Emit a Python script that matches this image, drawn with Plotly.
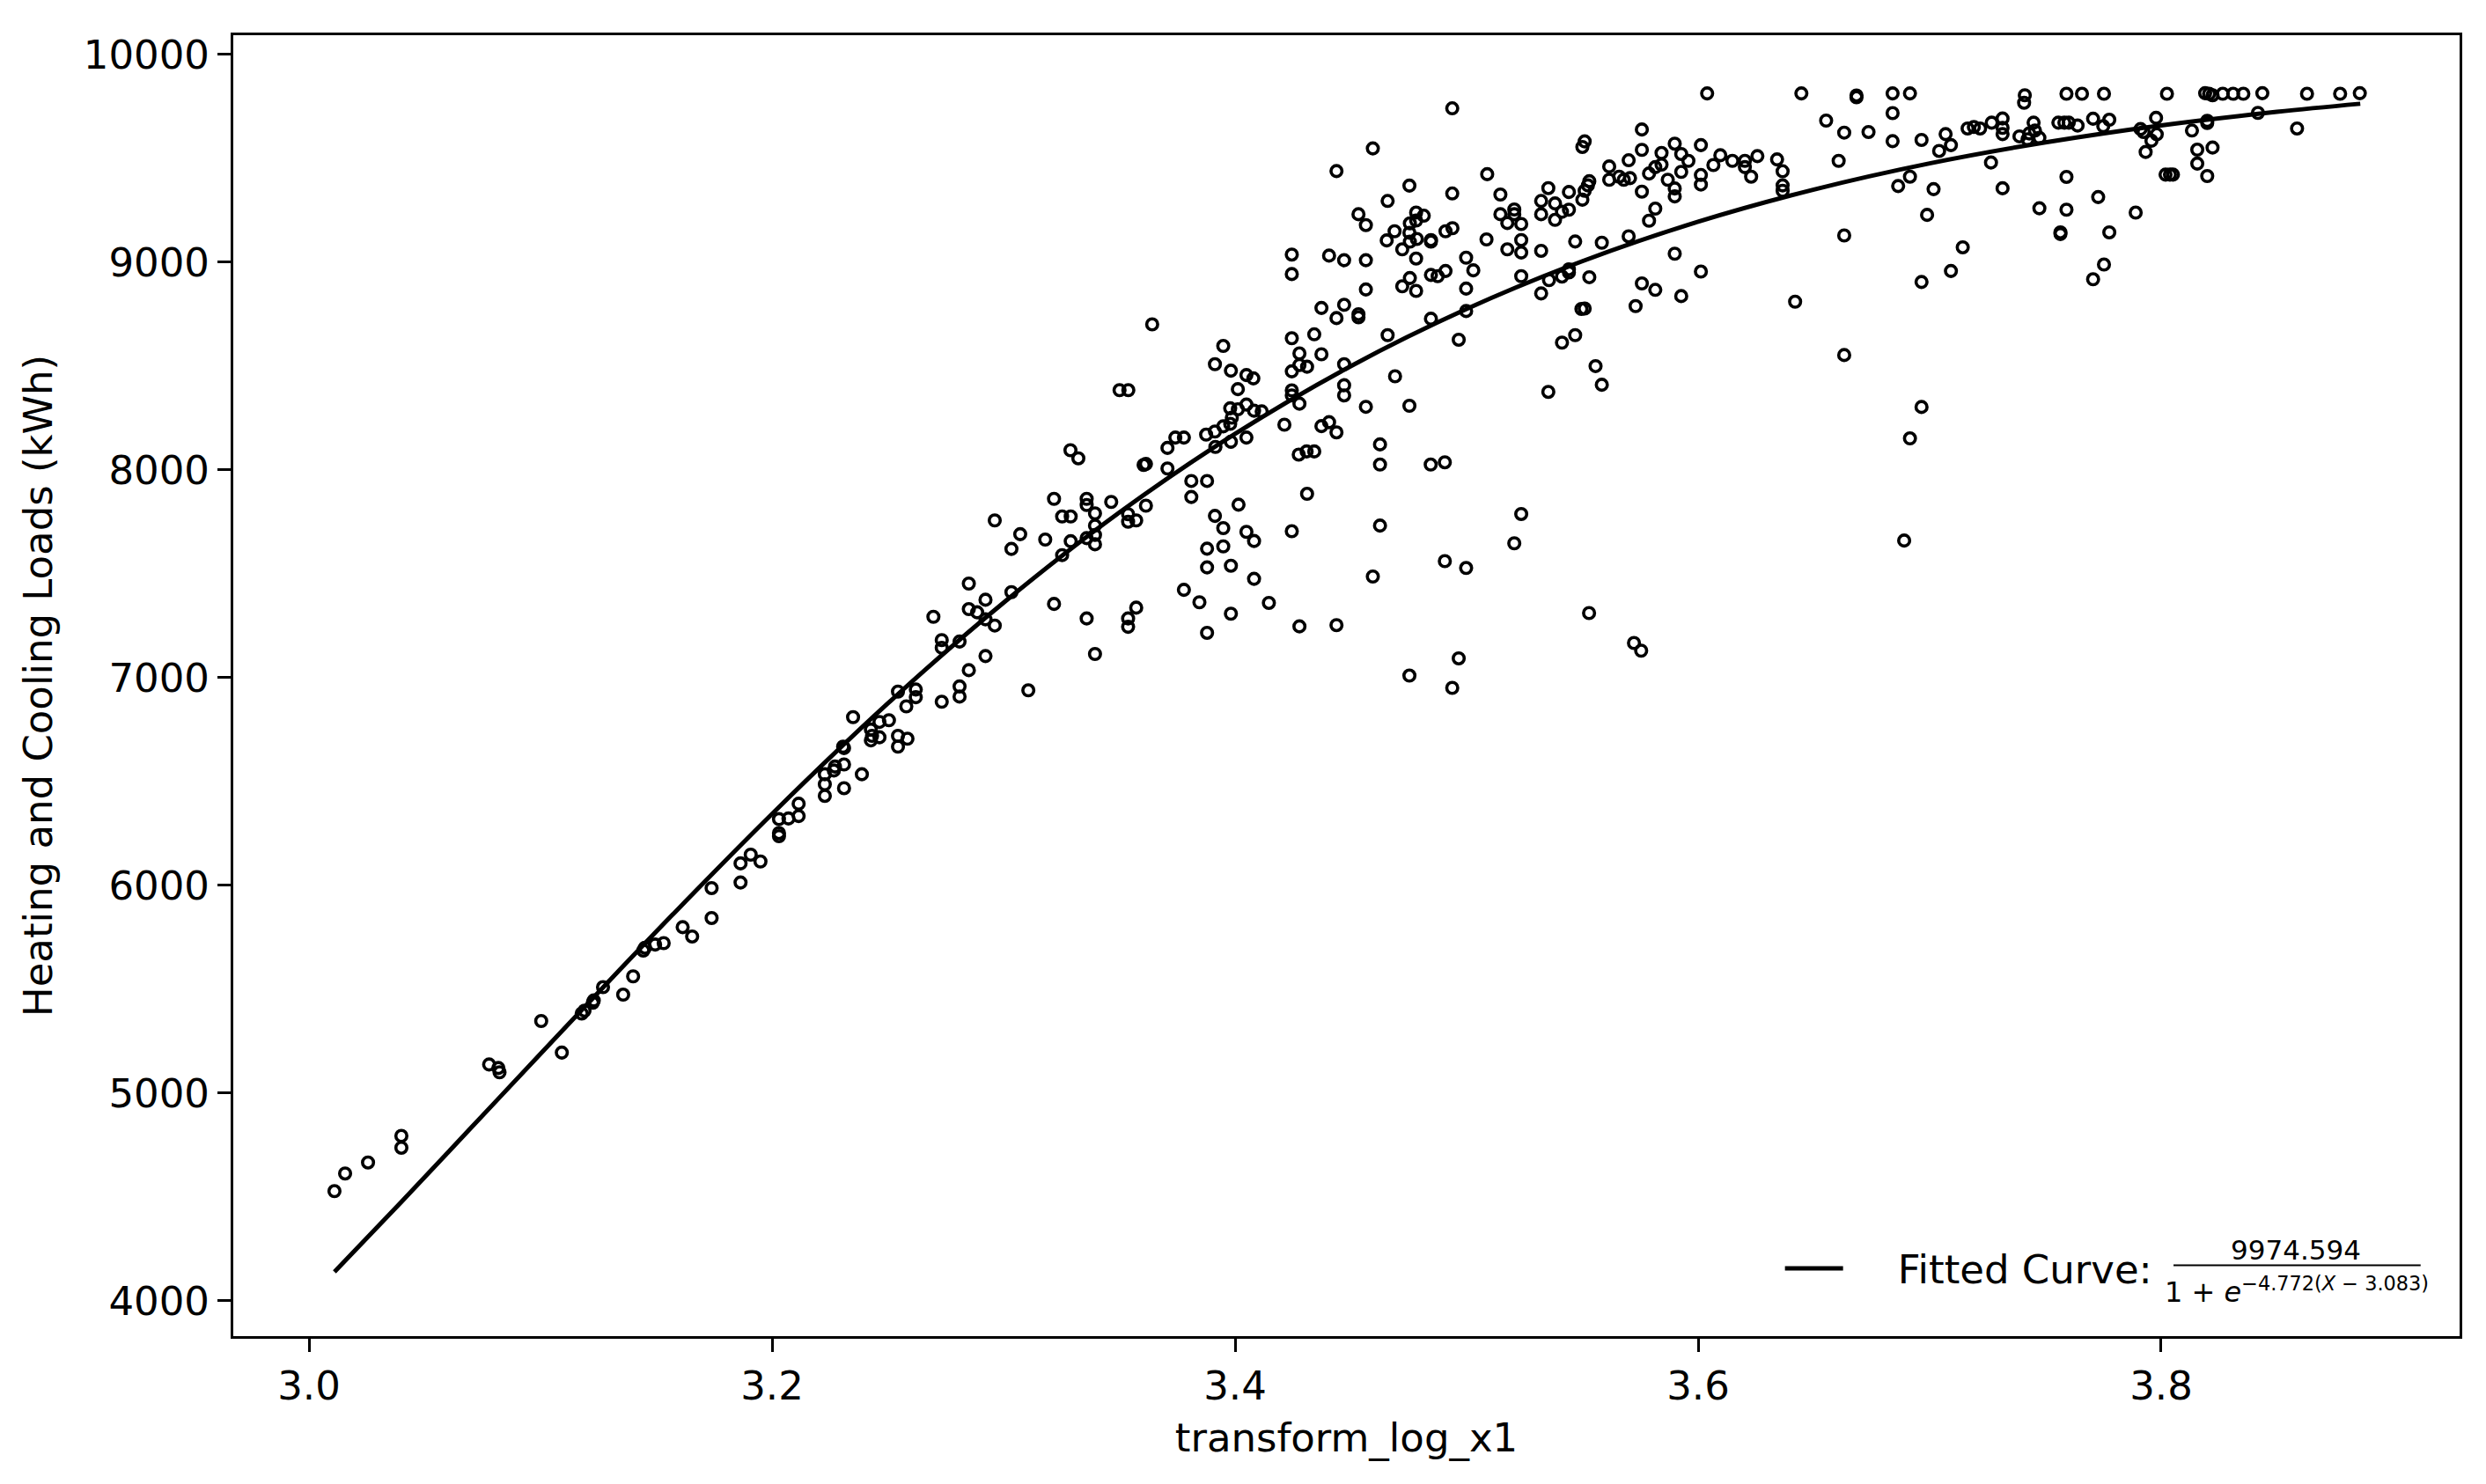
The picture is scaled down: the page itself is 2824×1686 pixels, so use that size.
import plotly.graph_objects as go

FONT = "DejaVu Sans"

# logistic fit parameters shown in the legend
FIT_L = 9974.594
FIT_K = 4.772
FIT_X0 = 3.083

# observed points: transform_log_x1 vs heating + cooling load (kWh)
load_x = [
    3.0110, 3.0156, 3.0255, 3.0399, 3.0399, 3.0778, 3.0818, 3.0823, 3.1003, 3.1092,
    3.1178, 3.1190, 3.1226, 3.1230, 3.1270, 3.1357, 3.1400, 3.1444, 3.1451, 3.1495,
    3.1532, 3.1614, 3.1655,
    3.1739, 3.1739, 3.1864, 3.1864, 3.1908, 3.1950, 3.2030, 3.2030, 3.2030, 3.2071,
    3.2115, 3.2115, 3.2228, 3.2228, 3.2228, 3.2267, 3.2272, 3.2311, 3.2311, 3.2311,
    3.2307, 3.2388, 3.2350, 3.2427, 3.2427, 3.2432, 3.2464, 3.2464, 3.2505, 3.2544,
    3.2544, 3.2585, 3.2544, 3.2580, 3.2621, 3.2621, 3.2733, 3.2810, 3.2810, 3.2850,
    3.2922, 3.3107, 3.2733, 3.2733, 3.2810, 3.2697, 3.2850, 3.2850, 3.2886, 3.2922,
    3.2922, 3.2962, 3.3034, 3.2962, 3.3034, 3.3072, 3.3180, 3.3218, 3.3253, 3.3290,
    3.3253, 3.3290, 3.3218, 3.3359, 3.3359, 3.3395, 3.3395, 3.3359, 3.3395, 3.3395,
    3.3465, 3.3359, 3.3395, 3.3538, 3.3538, 3.3573, 3.3538, 3.3538, 3.3573,
    3.3501, 3.3539, 3.3289, 3.3323, 3.3605,
    3.3642, 3.3949, 3.3913, 3.3982, 3.4049, 3.4079, 3.4012, 3.3979, 3.4012, 3.4049,
    3.4082, 3.4115, 3.3986, 3.3979, 3.3949, 3.3913, 3.3875, 3.3779, 3.3742, 3.3708,
    3.3708, 3.3615, 3.3615, 3.3915, 3.3982, 3.4049, 3.3811, 3.3879, 3.3811, 3.4015,
    3.3913, 3.3949, 3.4049, 3.4082, 3.3879, 3.3949, 3.3879, 3.3982, 3.4082, 3.3779,
    3.3846, 3.3982, 3.4146, 3.3879, 3.4278, 3.4438, 3.4245, 3.4311, 3.4213, 3.4275,
    3.4309, 3.4342, 3.4373, 3.4406, 3.4438, 3.4278, 3.4245, 3.4245, 3.4245, 3.4278,
    3.4311, 3.4278, 3.4373, 3.4245, 3.4342, 3.4373, 3.4438, 3.4471, 3.4533, 3.4533,
    3.4471, 3.4471, 3.4471, 3.4565, 3.4626, 3.4626, 3.4753, 3.4691, 3.4659, 3.4626,
    3.4595, 3.4565, 3.4565, 3.4471, 3.4406, 3.4245, 3.4245, 3.4846, 3.4845, 3.4906,
    3.4906, 3.4998, 3.4966,
    3.4755, 3.4722, 3.4782, 3.4846, 3.4846, 3.5176, 3.5236, 3.5236, 3.5322, 3.4722,
    3.4755, 3.4782, 3.4846, 3.4875, 3.4909, 3.4998, 3.5029, 3.4998, 3.5236, 3.5322,
    3.5356, 3.5412, 3.5442, 3.5442, 3.5496, 3.4998, 3.4966, 3.5469, 3.5412, 3.5353,
    3.5236, 3.5206,
    3.4753, 3.4938,
    3.4938, 3.4595, 3.4438, 3.5500, 3.5089, 3.4753, 3.4659, 3.4938, 3.5146, 3.4533,
    3.4565, 3.4689, 3.4655, 3.4755, 3.4782, 3.4815, 3.4782, 3.4753, 3.4785, 3.4909,
    3.4939, 3.5086, 3.5146, 3.5206, 3.5206, 3.5176, 3.5236, 3.5322, 3.5353, 3.5382,
    3.5322, 3.5382, 3.5412, 3.5442, 3.5442, 3.5500, 3.5469,
    3.6039, 3.6446, 3.6684, 3.6684, 3.6840, 3.6915, 3.6840, 3.6553, 3.6631, 3.6736,
    3.6840, 3.6965, 3.6607, 3.7069, 3.7041, 3.7092, 3.7164, 3.7191, 3.7218, 3.7268,
    3.7315, 3.7315, 3.7315, 3.7265, 3.7315, 3.7388, 3.7408,
    3.5510, 3.5530, 3.5524, 3.5510, 3.5616, 3.5616, 3.5659, 3.5679, 3.5706, 3.5700,
    3.5757, 3.5757, 3.5757, 3.5788, 3.5815, 3.5842, 3.5842, 3.5815, 3.5788, 3.5869,
    3.5899, 3.5899, 3.5899, 3.5927, 3.5927, 3.5958, 3.6012, 3.6012, 3.6012, 3.6066,
    3.6096, 3.6148, 3.6202, 3.6202, 3.6229, 3.6256, 3.6341, 3.6365, 3.6365, 3.6365,
    3.5584, 3.5700, 3.5530, 3.5510, 3.5757, 3.5815, 3.5730, 3.5899, 3.5927, 3.6012,
    3.6419, 3.6631, 3.6631, 3.6864, 3.6915, 3.7017, 3.6989, 3.7143, 3.7092, 3.6965,
    3.6965, 3.6915, 3.5557, 3.5584,
    3.5529, 3.5723, 3.5754, 3.6890,
    3.7411, 3.7591, 3.7658, 3.7753, 3.8025, 3.8190, 3.8207, 3.8222, 3.8266, 3.8311,
    3.8355, 3.8437, 3.8630, 3.8773, 3.8858,
    3.7449, 3.7455, 3.7430, 3.7423, 3.7474, 3.7556, 3.7582, 3.7601, 3.7639, 3.7706,
    3.7776, 3.7750, 3.7911, 3.7924, 3.7978, 3.7981, 3.7958, 3.7933, 3.8133, 3.8199,
    3.8199, 3.8156, 3.8222, 3.8156, 3.8199, 3.8019, 3.8038, 3.8051, 3.8418, 3.8587,
    3.7591, 3.7474, 3.7591, 3.7728, 3.7890, 3.7565, 3.7565, 3.7776, 3.7753, 3.7706,
]

load_y = [
    4528, 4613, 4666, 4794, 4737, 5138, 5121, 5100, 5347, 5195,
    5383, 5397, 5435, 5446, 5510, 5474, 5562, 5686, 5700, 5715,
    5722, 5799, 5754,
    5987, 5843, 6106, 6014, 6148, 6115, 6237, 6252, 6319, 6322,
    6393, 6334, 6431, 6487, 6535, 6553, 6572, 6582, 6468, 6661,
    6668, 6535, 6810, 6750, 6698, 6720, 6787, 6713, 6795, 6720,
    6668, 6706, 6933, 6862, 6943, 6906, 6884, 6958, 6909, 7036,
    7104, 6939, 7181, 7144, 7174, 7293, 7453, 7330, 7315, 7375,
    7281, 7251, 7412, 7757, 7620, 7691, 7665, 7861, 7776, 7776,
    7590, 7657, 7355, 7861, 7831, 7791, 7732, 7672, 7687, 7642,
    7846, 7285, 7114, 7787, 7751, 7757, 7285, 7245, 7337,
    8384, 8384, 8095, 8056, 8024,
    8701, 8597, 8509, 8478, 8457, 8441, 8389, 8297, 8292, 8315,
    8285, 8282, 8252, 8222, 8210, 8185, 8170, 8156, 8156, 8106,
    8007, 8029, 7828, 8111, 8136, 8156, 7947, 7947, 7870, 7833,
    7779, 7720, 7702, 7658, 7621, 7632, 7531, 7539, 7476, 7423,
    7363, 7308, 7360, 7216, 7247, 7253, 7705, 7885, 8218, 8074,
    8089, 8089, 8211, 8230, 8181, 8319, 8359, 8383, 8475, 8505,
    8497, 8561, 8557, 8634, 8653, 8780, 8731, 8795, 8750, 8735,
    8509, 8408, 8359, 8304, 8123, 8026, 8309, 8451, 8649, 7732,
    7487, 8869, 9010, 9010, 9032, 9037, 8943, 8728, 8026, 8037,
    7561, 7528, 7093,
    9099, 9062, 9018, 9107, 9099, 9062, 9107, 9047, 9055, 8884,
    8924, 8862, 8939, 8933, 8958, 9022, 8961, 8873, 8933, 8850,
    8914, 8931, 8966, 8951, 8775, 8765, 8627, 8649, 8613, 8376,
    7788, 7647,
    7010, 6951,
    9741, 9548, 9439, 9555, 9424, 9369, 9295, 9331, 9326, 9231,
    9179, 9149, 9105, 9187, 9239, 9224, 9201, 9142, 9112, 9149,
    9164, 9110, 9231, 9254, 9231, 9189, 9184, 9295, 9357, 9283,
    9231, 9204, 9243, 9253, 9338, 9301, 9100,
    9813, 9813, 9803, 9794, 9813, 9813, 9718, 9682, 9624, 9627,
    9583, 9589, 9488, 9617, 9536, 9564, 9644, 9651, 9644, 9672,
    9692, 9647, 9617, 9480, 9356, 9606, 9768,
    9582, 9390, 9370, 9344, 9461, 9397, 9412, 9397, 9405, 9491,
    9639, 9541, 9340, 9427, 9458, 9526, 9470, 9258, 9200, 9397,
    9571, 9355, 9317, 9521, 9435, 9488, 9564, 9420, 9374, 9468,
    9515, 9488, 9488, 9458, 9412, 9511, 9495, 9438, 9370, 9344,
    9094, 9125, 8928, 8777, 8898, 8867, 8789, 9041, 8837, 8955,
    8810, 9129, 8553, 9367, 9412, 9352, 9228, 9072, 8958, 8905,
    8303, 8152, 8500, 8410,
    7311, 7167, 7130, 7660,
    9804, 9811, 9811, 9811, 9811, 9814, 9811, 9804, 9811, 9811,
    9811, 9814, 9811, 9811, 9814,
    9672, 9634, 9620, 9592, 9599, 9672, 9672, 9672, 9658, 9691,
    9686, 9655, 9641, 9627, 9695, 9616, 9585, 9531, 9634, 9681,
    9670, 9542, 9552, 9475, 9415, 9422, 9422, 9422, 9719, 9644,
    9411, 9260, 9253, 9314, 9239, 9144, 9136, 9144, 8989, 8918,
]

# fitted curve
curve_x = [3.011, 3.04, 3.07, 3.10, 3.13, 3.16, 3.20, 3.25, 3.30, 3.35, 3.40,
           3.45, 3.50, 3.55, 3.60, 3.65, 3.70, 3.75, 3.80, 3.85, 3.886]
curve_y = [4139, 4477, 4833, 5189, 5544, 5893, 6344, 6876, 7361, 7795, 8174,
           8500, 8775, 9005, 9195, 9350, 9476, 9577, 9659, 9724, 9763]

x_ticks = [3.0, 3.2, 3.4, 3.6, 3.8]
y_ticks = [4000, 5000, 6000, 7000, 8000, 9000, 10000]

fig = go.Figure()

fig.add_trace(go.Scatter(
    x=load_x, y=load_y, mode="markers",
    marker=dict(symbol="circle-open", size=12.5, color="black",
                line=dict(width=3.6, color="black")),
    showlegend=False,
))

fig.add_trace(go.Scatter(
    x=curve_x, y=curve_y, mode="lines",
    line=dict(color="black", width=5, shape="spline"),
    name="\u00a0\u00a0\u00a0\u00a0Fitted Curve:",
    showlegend=True,
))

axis_common = dict(
    showline=True, linecolor="black", linewidth=3, mirror=True,
    ticks="outside", ticklen=15, tickwidth=3, tickcolor="black",
    showgrid=False, zeroline=False,
    tickfont=dict(family=FONT, size=45, color="black"),
)

fig.update_xaxes(
    range=[2.9673, 3.9289], tickvals=x_ticks, tickformat=".1f",
    title=dict(text="transform_log_x1", font=dict(family=FONT, size=45, color="black"), standoff=18),
    **axis_common,
)
fig.update_yaxes(
    range=[3830, 10093], tickvals=y_ticks, tickformat="d",
    title=dict(text="Heating and Cooling Loads (kWh)", font=dict(family=FONT, size=45, color="black"), standoff=22),
    **axis_common,
)

# fraction part of the legend label
num_txt = f"{FIT_L:.3f}"
den_txt = f"1 + <i>e</i><sup>\u2212{FIT_K:.3f}(<i>X</i> \u2212 {FIT_X0:.3f})</sup>"

fig.add_annotation(xref="paper", yref="paper", x=0.9265, y=0.066, text=num_txt,
                   showarrow=False, xanchor="center", yanchor="middle",
                   font=dict(family=FONT, size=31, color="black"))
fig.add_annotation(xref="paper", yref="paper", x=0.9268, y=0.035, text=den_txt,
                   showarrow=False, xanchor="center", yanchor="middle",
                   font=dict(family=FONT, size=32, color="black"))
fig.add_shape(type="line", xref="paper", yref="paper", x0=0.8715, x1=0.9825,
              y0=0.0545, y1=0.0545, line=dict(color="black", width=2))

fig.update_layout(
    width=2824, height=1686,
    margin=dict(l=265, r=30, t=40, b=168),
    paper_bgcolor="white", plot_bgcolor="white",
    font=dict(family=FONT, size=45, color="black"),
    legend=dict(x=0.695, y=0.052, xanchor="left", yanchor="middle",
                bgcolor="rgba(0,0,0,0)", itemwidth=66,
                font=dict(family=FONT, size=45, color="black")),
)

fig.write_html("out.html", config={"displayModeBar": False},
               post_script="document.body.style.margin='0';")
